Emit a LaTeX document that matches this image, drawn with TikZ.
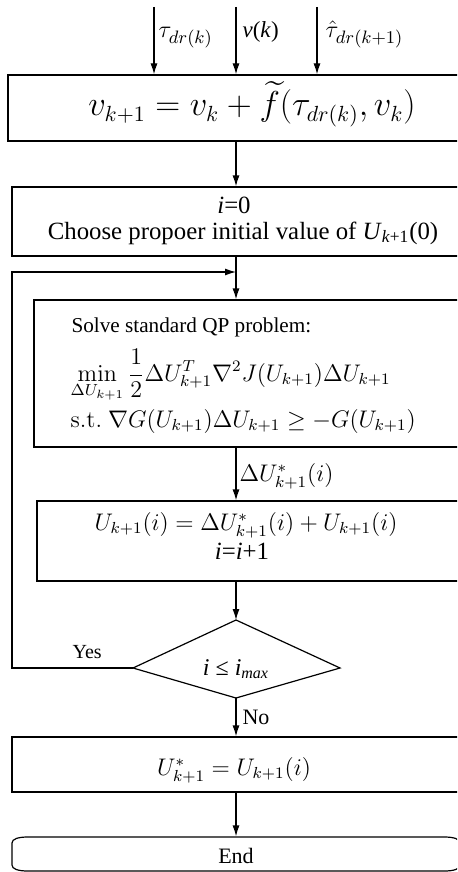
\documentclass[tikz,border=0pt]{standalone}
\usepackage{amsmath}
\usepackage[no-math]{fontspec}
\setmainfont{Liberation Serif}
\usetikzlibrary{arrows.meta}
\begin{document}
\begin{tikzpicture}[x=0.5pt,y=-0.5pt,line width=0.6pt,
  >={Latex[length=5.5pt,width=3.5pt]},
  box/.style={draw,rectangle,inner sep=0pt},
  tm/.style={inner sep=0pt,anchor=base,font=\fontsize{12.4}{14}\selectfont},
  tms/.style={inner sep=0pt,anchor=base west,font=\fontsize{10.6}{13}\selectfont},
  lbl/.style={inner sep=0pt,anchor=base west,font=\fontsize{11.5}{14}\selectfont},
  mbig/.style={inner sep=0pt,anchor=base,font=\fontsize{16}{19}\selectfont},
  mmid/.style={inner sep=0pt,anchor=base,font=\fontsize{12}{15}\selectfont},
  mleft/.style={inner sep=0pt,anchor=base west,font=\fontsize{12}{15}\selectfont}]
\useasboundingbox (0,0) rectangle (457,872);
\clip (0,0) rectangle (457,872);

% boxes
\node[box,minimum width=228.5pt,minimum height=33pt] (b1) at (236.5,108) {};
\node[box,minimum width=226.5pt,minimum height=34.5pt] (b2) at (238.5,221.5) {};
\node[box,minimum width=215.5pt,minimum height=73.5pt] (b3) at (249.5,373.5) {};
\node[box,minimum width=214pt,minimum height=40pt] (b4) at (251,541) {};
\node[box,minimum width=226.5pt,minimum height=27.5pt] (b5) at (238.5,764.5) {};

% decision (diamond)
\coordinate (dt) at (236,620);
\coordinate (dl) at (133,668);
\coordinate (dr) at (340,668);
\coordinate (db) at (236,698);
\draw (dt) -- (dr) -- (db) -- (dl) -- cycle;
\node[tm,font=\fontsize{12}{14}\selectfont] (dtxt) at (236,675) {\textit{i} ≤ \textit{i}\textsubscript{\textit{max}}};

% terminator
\node[inner sep=0pt,minimum width=224pt,minimum height=17pt] (endb) at (236,854) {};
\draw (28,837) -- (444,837) .. controls (454,837) and (460,839) .. (460,843)
  -- (460,865) .. controls (460,869) and (454,871) .. (444,871)
  -- (28,871) .. controls (18,871) and (12,869) .. (12,865)
  -- (12,843) .. controls (12,839) and (18,837) .. (28,837) -- cycle;
\node[tm,font=\fontsize{11}{13}\selectfont] (endt) at (236,863) {End};

% inputs
\coordinate (i1) at (154,7);
\coordinate (i2) at (236,7);
\coordinate (i3) at (317,7);
\draw[->] (i1) -- (i1 |- b1.north);
\draw[->] (i2) -- (i2 |- b1.north);
\draw[->] (i3) -- (i3 |- b1.north);
\node[inner sep=0pt,anchor=base west,font=\fontsize{13}{15}\selectfont] (l1) at (158,38) {$\tau_{dr(k)}$};
\node[lbl] (l2) at (242,38) {\textit{v}(\textit{k})};
\node[inner sep=0pt,anchor=base west,font=\fontsize{13}{15}\selectfont] (l3) at (325,38) {$\hat{\tau}_{dr(k+1)}$};

% texts
\node[mbig] (t1) at (252,116) {$v_{k+1} = v_k + \widetilde{f}(\tau_{dr(k)}, v_k)$};
\node[tm] (t2a) at (234,213) {\textit{i}=0};
\node[tm] (t2b) at (243,239) {Choose propoer initial value of \textit{U}\textsubscript{\textit{k}+1}(0)};
\node[tms] (t3a) at (71,332) {Solve standard QP problem:};
\node[mleft] (t3b) at (70,381) {$\displaystyle\min_{\Delta U_{k+1}}\frac{1}{2}\Delta U_{k+1}^T\nabla^2 J(U_{k+1})\Delta U_{k+1}$};
\node[mleft] (t3c) at (70,427) {$\mathrm{s.t.}\ \nabla G(U_{k+1})\Delta U_{k+1}\geq -G(U_{k+1})$};
\node[mmid] (t4a) at (246,530) {$U_{k+1}(i) = \Delta U_{k+1}^*(i) + U_{k+1}(i)$};
\node[tm] (t4b) at (242,559) {\textit{i}=\textit{i}+1};
\node[mmid] (t5) at (234,775) {$U_{k+1}^* = U_{k+1}(i)$};

% connectors
\coordinate (ax) at (236,0);
\coordinate (join) at (236,272);
\coordinate (cl) at (12,272);
\draw[->] (ax |- b1.south) -- (ax |- b2.north);
\draw (ax |- b2.south) -- (join);
\draw[->] (join) -- (ax |- b3.north);
\draw[->] (ax |- b3.south) -- (ax |- b4.north)
  node[pos=0.55,inner sep=0pt,anchor=west,xshift=1.5pt,font=\fontsize{12}{15}\selectfont] (dlbl) {$\Delta U_{k+1}^*(i)$};
\draw[->] (ax |- b4.south) -- (dt);
\draw[->] (db) -- (ax |- b5.north)
  node[pos=0.5,inner sep=0pt,anchor=west,xshift=3pt,font=\fontsize{11}{13}\selectfont] (nolbl) {No};
\draw[->] (ax |- b5.south) -- (endb.north);
\draw[->] (dl) -| (cl) -- (join);
\node[inner sep=0pt,anchor=base west,font=\fontsize{10}{12}\selectfont] (yes) at (72,658) {Yes};
\end{tikzpicture}
\end{document}
